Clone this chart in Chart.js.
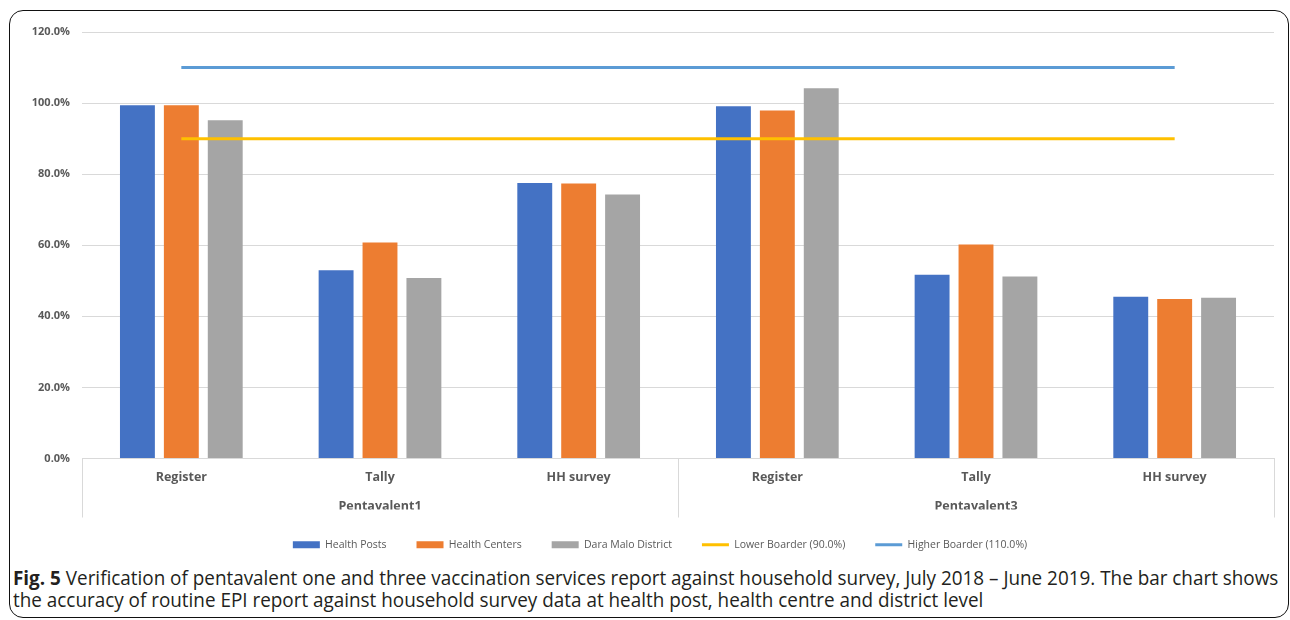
<!DOCTYPE html>
<html>
<head>
<meta charset="utf-8">
<title>Pentavalent report verification</title>
<script src="https://cdn.jsdelivr.net/npm/chart.js@4.4.1/dist/chart.umd.min.js"></script>
<style>
  html, body { margin: 0; padding: 0; background: #fff; width: 1290px; height: 620px; overflow: hidden; }
  #frame {
    position: absolute; left: 9px; top: 10px; width: 1280px; height: 608px;
    border: 1.5px solid #111; border-radius: 14px; box-sizing: border-box;
  }
  #chart { position: absolute; left: 0; top: 0; }
  .cap {
    position: absolute; left: 13px; white-space: nowrap;
    font-family: "Open Sans", sans-serif; font-size: 20px; color: #231f20;
    transform-origin: 0 0;
  }
  .cap b { font-weight: 700; }
  #cap1 { top: 564px; }
  #cap2 { top: 586px; }
</style>
</head>
<body>
<div id="frame"></div>
<canvas id="chart" width="1290" height="560"></canvas>
<div class="cap" id="cap1"><b>Fig. 5</b> Verification of pentavalent one and three vaccination services report against household survey, July 2018 – June 2019. The bar chart shows</div>
<div class="cap" id="cap2">the accuracy of routine EPI report against household survey data at health post, health centre and district level</div>

<script>
// Data sources within each vaccine dose
const categories = ['Register', 'Tally', 'HH survey', 'Register', 'Tally', 'HH survey'];
const groups = ['Pentavalent1', 'Pentavalent3'];

// Verification factor (%) per level
const healthPosts   = [99.4, 53.0, 77.5, 99.1, 51.7, 45.5];
const healthCenters = [99.4, 60.8, 77.4, 97.9, 60.2, 44.9];
const daraMalo      = [95.2, 50.8, 74.3, 104.2, 51.2, 45.2];

// Acceptable accuracy band (%)
const lowerBorder = 90;
const higherBorder = 110;

const yTicks = [0, 20, 40, 60, 80, 100, 120];

const gray = '#595959';
const gridGray = '#d9d9d9';

// Vertical separators between the two dose groups under the axis
const groupDividers = {
  id: 'groupDividers',
  afterDraw(chart) {
    const x = chart.scales.x;
    const x2 = chart.scales.x2;
    const per = categories.length / groups.length;
    const xs = [x.left];
    for (let g = 1; g < groups.length; g++) {
      xs.push((x.getPixelForTick(g * per - 1) + x.getPixelForTick(g * per)) / 2);
    }
    xs.push(x.right);
    const ctx = chart.ctx;
    ctx.save();
    ctx.strokeStyle = gridGray;
    ctx.lineWidth = 1;
    xs.forEach(px => {
      const p = Math.round(px) + 0.5;
      ctx.beginPath();
      ctx.moveTo(p, x.top);
      ctx.lineTo(p, x2.top + 26);
      ctx.stroke();
    });
    ctx.restore();
  }
};

// Centre the legend row under the whole figure rather than the canvas box
const legendShift = {
  id: 'legendShift',
  afterLayout(chart) {
    const lg = chart.legend;
    if (!lg) return;
    const dx = 18;
    lg.left += dx;
    lg.right += dx;
  }
};

const ctx = document.getElementById('chart').getContext('2d');
new Chart(ctx, {
  data: {
    labels: categories,
    datasets: [
      { type: 'bar', label: 'Health Posts', data: healthPosts, backgroundColor: '#4472C4', order: 1 },
      { type: 'bar', label: 'Health Centers', data: healthCenters, backgroundColor: '#ED7D31', order: 1 },
      { type: 'bar', label: 'Dara Malo District', data: daraMalo, backgroundColor: '#A5A5A5', order: 1 },
      { type: 'line', label: 'Lower Boarder (' + lowerBorder.toFixed(1) + '%)',
        data: categories.map(() => lowerBorder),
        borderColor: '#FFC000', backgroundColor: '#FFC000', borderWidth: 3,
        pointRadius: 0, order: 0 },
      { type: 'line', label: 'Higher Boarder (' + higherBorder.toFixed(1) + '%)',
        data: categories.map(() => higherBorder),
        borderColor: '#5B9BD5', backgroundColor: '#5B9BD5', borderWidth: 3,
        pointRadius: 0, order: 0 }
    ]
  },
  options: {
    responsive: false,
    devicePixelRatio: 1,
    animation: false,
    datasets: {
      bar: { categoryPercentage: 0.663, barPercentage: 0.795, borderWidth: 0 }
    },
    layout: { padding: { left: 10, right: 16, top: 32, bottom: 0 } },
    scales: {
      y: {
        min: 0, max: 120,
        afterBuildTicks(scale) { scale.ticks = yTicks.map(v => ({ value: v })); },
        afterFit(scale) { scale.width = 72; },
        ticks: {
          padding: 12,
          color: gray,
          font: { family: 'Open Sans', size: 11, weight: 'bold' },
          callback: v => v.toFixed(1) + '%'
        },
        grid: { color: gridGray, lineWidth: 1, drawTicks: false },
        border: { display: false }
      },
      x: {
        type: 'category',
        offset: true,
        afterFit(scale) { scale.height = 33; },
        grid: { display: false, drawTicks: false },
        border: { display: true, color: gridGray, width: 1 },
        ticks: {
          padding: 11,
          color: gray,
          maxRotation: 0,
          autoSkip: false,
          font: { family: 'Open Sans', size: 12.5, weight: 'bold' }
        }
      },
      x2: {
        type: 'category',
        position: 'bottom',
        labels: groups,
        offset: true,
        afterFit(scale) { scale.height = 18; },
        grid: { display: false, drawTicks: false },
        border: { display: false },
        ticks: {
          padding: 7,
          color: gray,
          maxRotation: 0,
          font: { family: 'Open Sans', size: 12.5, weight: 'bold' }
        }
      }
    },
    plugins: {
      tooltip: { enabled: false },
      legend: {
        position: 'bottom',
        labels: {
          usePointStyle: true,
          pointStyleWidth: 27,
          boxHeight: 7,
          padding: 30,
          color: gray,
          font: { family: 'Open Sans', size: 10.5 },
          sort: (a, b) => a.datasetIndex - b.datasetIndex,
          generateLabels(chart) {
            const items = Chart.defaults.plugins.legend.labels.generateLabels(chart);
            items.forEach(it => {
              const ds = chart.data.datasets[it.datasetIndex];
              if (ds.type === 'line') {
                it.pointStyle = 'line';
                it.strokeStyle = ds.borderColor;
                it.lineWidth = 3;
              } else {
                it.pointStyle = 'rect';
                it.lineWidth = 0;
              }
            });
            return items;
          }
        }
      }
    }
  },
  plugins: [groupDividers, legendShift]
});

// Fit the two-line caption to the figure width
const cap1 = document.getElementById('cap1');
const cap2 = document.getElementById('cap2');
const s = 1265 / cap1.scrollWidth;
[cap1, cap2].forEach(el => { el.style.transform = 'scaleX(' + s + ')'; });
</script>
</body>
</html>
